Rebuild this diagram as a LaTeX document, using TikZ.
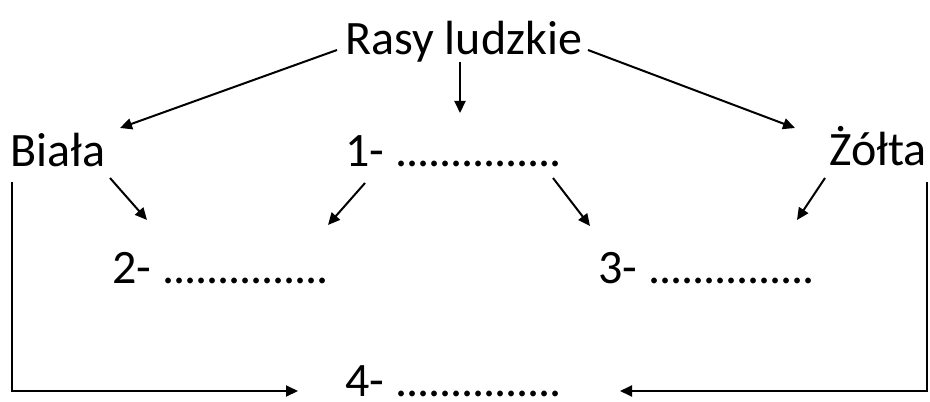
\documentclass[tikz,border=0pt]{standalone}
\usepackage{fontspec}
\setmainfont{Carlito}
\usetikzlibrary{arrows.meta}
\usetikzlibrary{positioning}

% dotted blank to fill in
\newcommand{\kropki}{\foreach \k in {1,...,15}{.\kern-0.55pt}}

\begin{document}
\begin{tikzpicture}[x=0.5pt, y=-0.5pt,
    lbl/.style={inner sep=0pt, anchor=base west, font=\fontsize{24}{28}\selectfont},
    arr/.style={-{Triangle[length=6pt, width=5.5pt]}, line width=1pt}]
    \useasboundingbox (0,0) rectangle (930,401);

    % Top of the tree
    \node[lbl] (rasy) at (345,55) {Rasy ludzkie};

    % Second row
    \node[lbl] (biala) at (10,166) {Biała};
    \node[lbl] (one) at (345,166) {1- \kropki};
    \node[lbl] (zolta) at (829,165) {Żółta};

    % Third row
    \node[lbl] (two) at (112,283) {2- \kropki};
    \node[lbl] (three) at (598,283) {3- \kropki};

    % Bottom
    \node[lbl] (four) at (345,396) {4- \kropki};

    % Arrows from the top
    \draw[arr] ([shift={(-8,-5)}]rasy.base west) -- ([shift={(110,-38)}]biala.base west);
    \draw[arr] ([shift={(115,7)}]rasy.base west) -- ([shift={(115,-53)}]one.base west);
    \draw[arr] ([shift={(243,-5)}]rasy.base west) -- ([shift={(-34,-37)}]zolta.base west);

    % Arrows to the third row
    \draw[arr] ([shift={(100,12)}]biala.base west) -- ([shift={(35,-63)}]two.base west);
    \draw[arr] ([shift={(20,17)}]one.base west) -- ([shift={(216,-58)}]two.base west);
    \draw[arr] ([shift={(208,12)}]one.base west) -- ([shift={(-8,-57)}]three.base west);
    \draw[arr] ([shift={(-4,13)}]zolta.base west) -- ([shift={(199,-63)}]three.base west);

    % Side arrows to the bottom
    \draw[arr] ([shift={(2,16)}]biala.base west) |- ([shift={(-47,-5)}]four.base west);
    \draw[arr] ([shift={(98,17)}]zolta.base west) |- ([shift={(275,-5)}]four.base west);

\end{tikzpicture}
\end{document}
